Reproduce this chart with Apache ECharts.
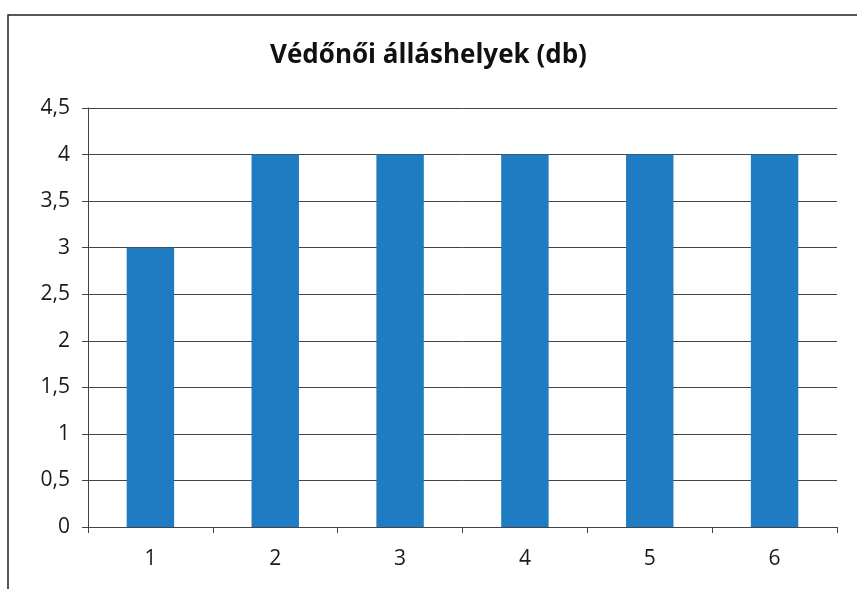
<!DOCTYPE html>
<html>
<head>
<meta charset="utf-8">
<script src="https://cdn.jsdelivr.net/npm/echarts@6/dist/echarts.min.js"></script>
<style>
  html, body { margin: 0; padding: 0; background: #ffffff; }
  #chart { width: 857px; height: 589px; }
</style>
</head>
<body>
<div id="chart"></div>
<script>
// Number of health-visitor posts per district
const categories = ['1', '2', '3', '4', '5', '6'];
const posts = [3, 4, 4, 4, 4, 4];
const yTicks = { min: 0, max: 4.5, interval: 0.5 };

const chart = echarts.init(document.getElementById('chart'), null, { renderer: 'canvas' });
const fontFamily = '"Open Sans", "Liberation Sans", sans-serif';

chart.setOption({
  animation: false,
  backgroundColor: '#ffffff',
  title: {
    text: 'Védőnői álláshelyek (db)',
    left: 'center',
    top: 38,
    textStyle: { fontFamily, fontSize: 26, fontWeight: 'bold', color: '#111' }
  },
  graphic: [{
    type: 'rect',
    shape: { x: 8, y: 15, width: 900, height: 620 },
    style: { fill: 'none', stroke: '#222', lineWidth: 1.5 },
    silent: true
  }],
  grid: { left: 88, right: 20, top: 108, bottom: 62 },
  xAxis: {
    type: 'category',
    data: categories,
    axisLine: { lineStyle: { color: '#444', width: 1 } },
    axisTick: { show: true, alignWithLabel: false, length: 6, lineStyle: { color: '#444' } },
    axisLabel: { fontFamily, fontSize: 21, color: '#1a1a1a', margin: 22 }
  },
  yAxis: {
    type: 'value',
    min: yTicks.min,
    max: yTicks.max,
    interval: yTicks.interval,
    axisLine: { show: true, lineStyle: { color: '#444', width: 1 } },
    axisTick: { show: true, length: 6, lineStyle: { color: '#444' } },
    axisLabel: {
      fontFamily, fontSize: 21, color: '#1a1a1a', margin: 18,
      formatter: v => String(v).replace('.', ',')
    },
    splitLine: { show: true, lineStyle: { color: '#444', width: 1 } }
  },
  series: [{
    type: 'bar',
    data: posts,
    barWidth: '38%',
    itemStyle: { color: '#1f7bc2' }
  }]
});
</script>
</body>
</html>
